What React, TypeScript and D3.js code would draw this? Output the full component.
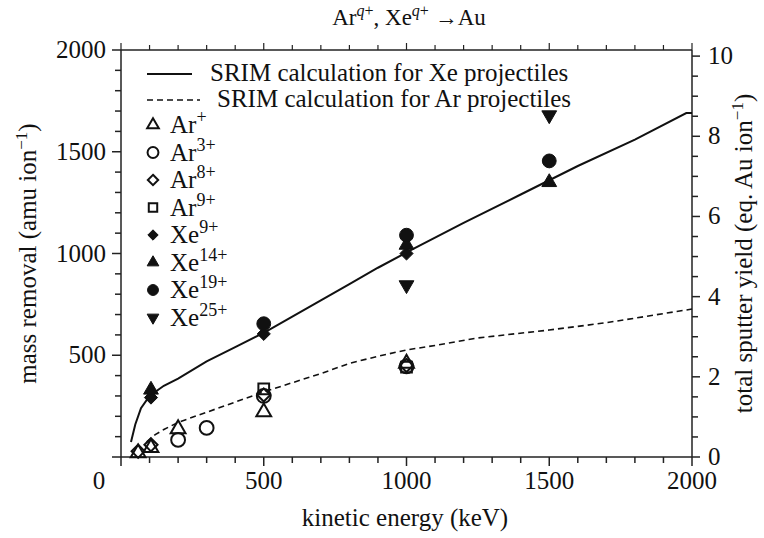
import React from 'react'
import * as d3 from 'd3'

// SRIM curves (kinetic energy keV -> mass removal amu/ion)
const srimXeEnergy = [35, 50, 70, 100, 150, 200, 300, 400, 500, 600, 700, 800, 900, 1000, 1200, 1400, 1500, 1600, 1800, 1980, 2000]
const srimXeMass = [74, 160, 240, 300, 350, 385, 470, 540, 610, 690, 770, 850, 930, 1005, 1150, 1290, 1360, 1430, 1560, 1690, 1690]
const srimArEnergy = [90, 120, 150, 200, 300, 400, 500, 600, 700, 800, 900, 1000, 1100, 1250, 1500, 1700, 2000]
const srimArMass = [74, 110, 135, 170, 220, 270, 320, 365, 410, 460, 495, 526, 548, 585, 624, 660, 727]

// measured points
const arPlusE = [60, 105, 200, 500, 1000]
const arPlusM = [20, 45, 138, 221, 460]
const ar3E = [200, 300, 500, 1000]
const ar3M = [84, 143, 300, 445]
const ar8E = [60, 105, 500, 1000]
const ar8M = [28, 60, 305, 450]
const ar9E = [500, 1000]
const ar9M = [335, 442]
const xe9E = [105, 500, 1000, 1500]
const xe9M = [292, 605, 1000, 1455]
const xe14E = [105, 1000, 1500]
const xe14M = [330, 1042, 1350]
const xe19E = [500, 1000, 1500]
const xe19M = [655, 1090, 1455]
const xe25E = [1000, 1500]
const xe25M = [845, 1680]

const xTicks = [0, 500, 1000, 1500, 2000]
const yTicks = [0, 500, 1000, 1500, 2000]
const yRightTicks = [0, 2, 4, 6, 8, 10]

const AU_MASS = 197
const FONT = 'Liberation Serif'

type Series = { label: string; sup: string; sym: string; filled: boolean; e: number[]; m: number[] }
const series: Series[] = [
  { label: 'Ar', sup: '+', sym: 'tri', filled: false, e: arPlusE, m: arPlusM },
  { label: 'Ar', sup: '3+', sym: 'circle', filled: false, e: ar3E, m: ar3M },
  { label: 'Ar', sup: '8+', sym: 'diamond', filled: false, e: ar8E, m: ar8M },
  { label: 'Ar', sup: '9+', sym: 'square', filled: false, e: ar9E, m: ar9M },
  { label: 'Xe', sup: '9+', sym: 'diamond', filled: true, e: xe9E, m: xe9M },
  { label: 'Xe', sup: '14+', sym: 'tri', filled: true, e: xe14E, m: xe14M },
  { label: 'Xe', sup: '19+', sym: 'circle', filled: true, e: xe19E, m: xe19M },
  { label: 'Xe', sup: '25+', sym: 'tridown', filled: true, e: xe25E, m: xe25M },
]

function symbolPath(sym: string, big: boolean) {
  const k = big ? 1 : 0.62
  if (sym === 'tri' || sym === 'tridown') return d3.symbol().type(d3.symbolTriangle).size(95 * k)()
  if (sym === 'circle') return d3.symbol().type(d3.symbolCircle).size(150 * k)()
  if (sym === 'diamond') return d3.symbol().type(d3.symbolDiamond2).size(110 * k)()
  return d3.symbol().type(d3.symbolSquare).size(115 * k)()
}

function Marker({ sym, filled, x, y, big }: { sym: string; filled: boolean; x: number; y: number; big: boolean }) {
  const rot = sym === 'tridown' ? ' rotate(180)' : ''
  return (
    <path
      d={symbolPath(sym, big) || ''}
      transform={`translate(${x},${y})${rot}`}
      fill={filled ? '#111' : 'none'}
      stroke="#111"
      strokeWidth={filled ? 1 : 2}
    />
  )
}

function T(props: any) {
  return <text fontFamily={FONT} fill="#111" {...props} />
}

export default function App() {
  const width = 764
  const height = 538
  const left = 121, right = 692, top = 50, bottom = 457

  const x = d3.scaleLinear().domain([0, 2000]).range([left, right])
  const y = d3.scaleLinear().domain([0, 2000]).range([bottom, top])
  const y2 = d3.scaleLinear().domain([0, 2000 / AU_MASS]).range([bottom, top])

  const line = d3.line<[number, number]>().x(d => x(d[0])).y(d => y(d[1]))
  const xeLine = line(srimXeEnergy.map((e, i) => [e, srimXeMass[i]]))
  const arLine = line(srimArEnergy.map((e, i) => [e, srimArMass[i]]))

  const minorX = d3.range(0, 2001, 100)
  const minorY = d3.range(0, 2001, 100)
  const minorY2 = d3.range(0, 10.01, 0.5)
  const ax = '#222'

  const legendY0 = 125
  const legendStep = 27.5

  return (
    <svg width={width} height={height} style={{ position: 'absolute', left: 0, top: 0, background: '#fff' }}>
      {/* title */}
      <T x={409} y={25} textAnchor="middle" fontSize={23}>
        Ar<tspan dy={-9} fontSize={16}><tspan fontStyle="italic">q</tspan>+</tspan>
        <tspan dy={9}>, Xe</tspan><tspan dy={-9} fontSize={16}><tspan fontStyle="italic">q</tspan>+</tspan>
        <tspan dy={9}> {'\u2192'}Au</tspan>
      </T>

      {/* frame */}
      <line x1={left} x2={right} y1={bottom} y2={bottom} stroke={ax} strokeWidth={1.5} />
      <line x1={left} x2={right} y1={top} y2={top} stroke={ax} strokeWidth={1.5} />
      <line x1={left} x2={left} y1={top} y2={bottom} stroke={ax} strokeWidth={1.5} />
      <line x1={right} x2={right} y1={top} y2={bottom} stroke={ax} strokeWidth={1.5} />

      {/* x ticks */}
      {minorX.map(v => {
        const major = v % 500 === 0
        return (
          <g key={'x' + v}>
            <line x1={x(v)} x2={x(v)} y1={bottom} y2={bottom + (major ? 9 : 6)} stroke={ax} strokeWidth={1.5} />
            <line x1={x(v)} x2={x(v)} y1={top} y2={top - (major ? 7 : 5)} stroke={ax} strokeWidth={1.2} />
          </g>
        )
      })}
      {xTicks.map(v => (
        <T key={'xl' + v} x={v === 0 ? 99 : x(v)} y={489} textAnchor="middle" fontSize={25}>{v}</T>
      ))}

      {/* left y ticks */}
      {minorY.map(v => (
        <line key={'y' + v} x1={left} x2={left - (v % 500 === 0 ? 9 : 6)} y1={y(v)} y2={y(v)} stroke={ax} strokeWidth={1.5} />
      ))}
      {yTicks.filter(v => v > 0).map(v => (
        <T key={'yl' + v} x={106} y={y(v) + 8} textAnchor="end" fontSize={25}>{v}</T>
      ))}

      {/* right y ticks */}
      {minorY2.map(v => (
        <line key={'r' + v} x1={right} x2={right + (v % 2 === 0 ? 8 : 6)} y1={y2(v)} y2={y2(v)} stroke={ax} strokeWidth={1.5} />
      ))}
      {yRightTicks.map(v => (
        <T key={'rl' + v} x={708} y={y2(v) + 8} textAnchor="start" fontSize={25}>{v}</T>
      ))}

      {/* axis titles */}
      <T x={405} y={526} textAnchor="middle" fontSize={25}>kinetic energy (keV)</T>
      <T transform={`translate(36,${(top + bottom) / 2}) rotate(-90)`} textAnchor="middle" fontSize={25}>
        mass removal (amu ion<tspan dy={-9} fontSize={17}>{'\u2212'}1</tspan><tspan dy={9}>)</tspan>
      </T>
      <T transform={`translate(752,${(top + bottom) / 2}) rotate(-90)`} textAnchor="middle" fontSize={25}>
        total sputter yield (eq. Au ion<tspan dy={-9} fontSize={17}>{'\u2212'}1</tspan><tspan dy={9}>)</tspan>
      </T>

      {/* SRIM curves */}
      <path d={xeLine || ''} fill="none" stroke="#111" strokeWidth={2} />
      <path d={arLine || ''} fill="none" stroke="#111" strokeWidth={1.6} strokeDasharray="6,4" />

      {/* data points */}
      {series.map((s, si) => (
        <g key={'s' + si}>
          {s.e.map((e, i) => (
            <Marker key={i} sym={s.sym} filled={s.filled} x={x(e)} y={y(s.m[i])} big={true} />
          ))}
        </g>
      ))}

      {/* legend */}
      <line x1={147} x2={192} y1={74} y2={74} stroke="#111" strokeWidth={2} />
      <T x={210} y={81} fontSize={25}>SRIM calculation for Xe projectiles</T>
      <line x1={147} x2={200} y1={100} y2={100} stroke="#111" strokeWidth={1.6} strokeDasharray="6,4" />
      <T x={217} y={107} fontSize={25}>SRIM calculation for Ar projectiles</T>
      {series.map((s, i) => {
        const ly = legendY0 + i * legendStep
        return (
          <g key={'lg' + i}>
            <Marker sym={s.sym} filled={s.filled} x={153} y={ly} big={false} />
            <T x={170} y={ly + 8} fontSize={25}>
              {s.label}<tspan dy={-10} fontSize={18}>{s.sup}</tspan>
            </T>
          </g>
        )
      })}
    </svg>
  )
}
